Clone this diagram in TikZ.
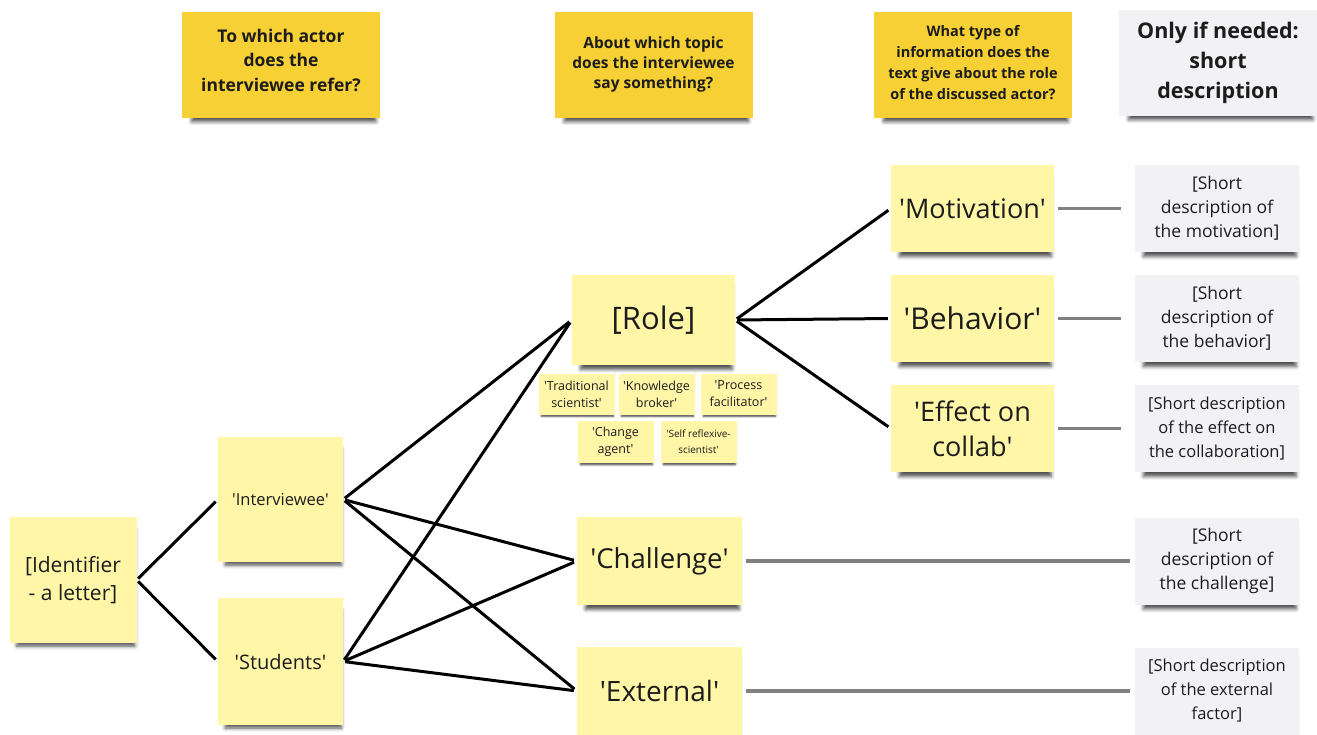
\documentclass[tikz,border=0pt]{standalone}
\usepackage{fontspec}
\setmainfont{Open Sans}
\usepackage{xcolor}
\usepackage{tikz}
\usetikzlibrary{shadows.blur}

\definecolor{headyellow}{RGB}{246,208,52}
\definecolor{stickyyellow}{RGB}{255,246,168}
\definecolor{descgrey}{RGB}{242,242,245}
\definecolor{inkdark}{RGB}{28,28,28}
\definecolor{linegrey}{RGB}{128,128,128}

\newcommand{\fsz}[2]{\fontsize{#1pt}{#2pt}\selectfont}
\newcommand{\sq}[1]{\textquotesingle#1\textquotesingle}

\tikzstyle{paper} = [rectangle, align=center, inner sep=2pt, text=inkdark,
  blur shadow={shadow xshift=3pt, shadow yshift=-8pt, shadow scale=0.93, shadow opacity=70, shadow blur radius=4pt}]
\tikzstyle{head} = [paper, fill=headyellow, minimum width=198pt, minimum height=106pt]
\tikzstyle{sticky} = [paper, fill=stickyyellow]
\tikzstyle{desc} = [paper, fill=descgrey, minimum width=164pt, minimum height=87pt, font=\fsz{17.5}{24}]
\tikzstyle{tag} = [paper, fill=stickyyellow, minimum width=76pt, minimum height=41pt, inner sep=1pt, font=\fsz{12.5}{17},
  blur shadow={shadow xshift=1pt, shadow yshift=-3pt, shadow scale=0.95, shadow opacity=45, shadow blur radius=2pt}]
\tikzstyle{link} = [line width=3pt, black, shorten <=2pt, shorten >=3pt]
\tikzstyle{desclink} = [line width=3.5pt, linegrey, shorten <=4pt, shorten >=14pt]

\begin{document}
\begin{tikzpicture}[x=1pt, y=-1pt]
\useasboundingbox (0,0) rectangle (1317,735);

% Column questions
\node[head, font=\bfseries\fsz{17.5}{24.5}] (qactor) at (281,65) {To which actor\\does the\\interviewee refer?\\[-14.5pt]};
\node[head, font=\bfseries\fsz{15.5}{20}] (qtopic) at (653.5,65) {About which topic\\does the interviewee\\say something?\\[-16pt]};
\node[head, font=\bfseries\fsz{14.5}{21}] (qinfo) at (973,65) {What type of\\information does the\\text give about the role\\of the discussed actor?\\[-15pt]};
\node[head, fill=descgrey, font=\bfseries\fsz{21.5}{30}] (qdesc) at (1218,63) {Only if needed:\\short\\description};

% Identifier and actors
\node[sticky, minimum width=127pt, minimum height=126pt, font=\fsz{21}{28}] (ident) at (73,580) {[Identifier\\- a letter]};
\node[sticky, minimum width=125pt, minimum height=125pt, font=\fsz{16.5}{20}] (inter) at (280.5,499.5) {\sq{Interviewee}};
\node[sticky, minimum width=125pt, minimum height=127pt, font=\fsz{20}{24}] (stud) at (280.5,661.5) {\sq{Students}};

% Topics
\node[sticky, minimum width=163pt, minimum height=90pt, font=\fsz{31}{36}] (role) at (653.5,320) {[Role]};
\node[sticky, minimum width=165pt, minimum height=88pt, font=\fsz{27.5}{32}] (chall) at (659.5,561) {\sq{Challenge}};
\node[sticky, minimum width=165pt, minimum height=88pt, font=\fsz{28}{32}] (ext) at (659.5,691) {\sq{External}};

% Role types
\node[tag] (tradsci) at (576.5,394) {\textquotesingle Traditional\\scientist\textquotesingle};
\node[tag] (knowbrok) at (656.5,394) {\textquotesingle Knowledge\\broker\textquotesingle};
\node[tag] (procfac) at (738.5,394) {\textquotesingle Process\\facilitator\textquotesingle};
\node[tag, minimum height=42pt] (changeag) at (615.5,442) {\textquotesingle Change\\agent\textquotesingle};
\node[tag, minimum height=42pt, font=\fsz{10}{16}] (selfrefl) at (698.5,442) {\textquotesingle Self reflexive-\\scientist\textquotesingle};

% Information about the role
\node[sticky, minimum width=163pt, minimum height=87pt, font=\fsz{27}{32}] (motiv) at (972.5,208.5) {\sq{Motivation}};
\node[sticky, minimum width=163pt, minimum height=87pt, font=\fsz{30}{34}] (behav) at (972.5,318.5) {\sq{Behavior}};
\node[sticky, minimum width=163pt, minimum height=87pt, font=\fsz{27}{35}] (effect) at (972.5,428.5) {\textquotesingle Effect on\\collab\textquotesingle};

% Short descriptions
\node[desc] (dmotiv) at (1217,208.5) {[Short\\description of\\the motivation]};
\node[desc] (dbehav) at (1217,318.5) {[Short\\description of\\the behavior]};
\node[desc, font=\fsz{16.5}{24}] (deffect) at (1217,428.5) {[Short description\\of the effect on\\the collaboration]};
\node[desc] (dchall) at (1217,561) {[Short\\description of\\the challenge]};
\node[desc, font=\fsz{16.5}{24}] (dext) at (1217,691) {[Short description\\of the external\\factor]};

% Connections
\draw[link] (ident.east) -- (inter.west);
\draw[link] (ident.east) -- (stud.west);
\foreach \actor in {inter, stud} {
  \draw[link] (\actor.east) -- (role.west);
  \draw[link] (\actor.east) -- (chall.west);
  \draw[link] (\actor.east) -- (ext.west);
}
\foreach \info in {motiv, behav, effect}
  \draw[link] (role.east) -- (\info.west);

% Lines to the descriptions
\draw[desclink] (motiv.east) -- (dmotiv.west);
\draw[desclink] (behav.east) -- (dbehav.west);
\draw[desclink] (effect.east) -- (deffect.west);
\draw[desclink, shorten >=5pt] (chall.east) -- (dchall.west);
\draw[desclink, shorten >=5pt] (ext.east) -- (dext.west);

\end{tikzpicture}
\end{document}
